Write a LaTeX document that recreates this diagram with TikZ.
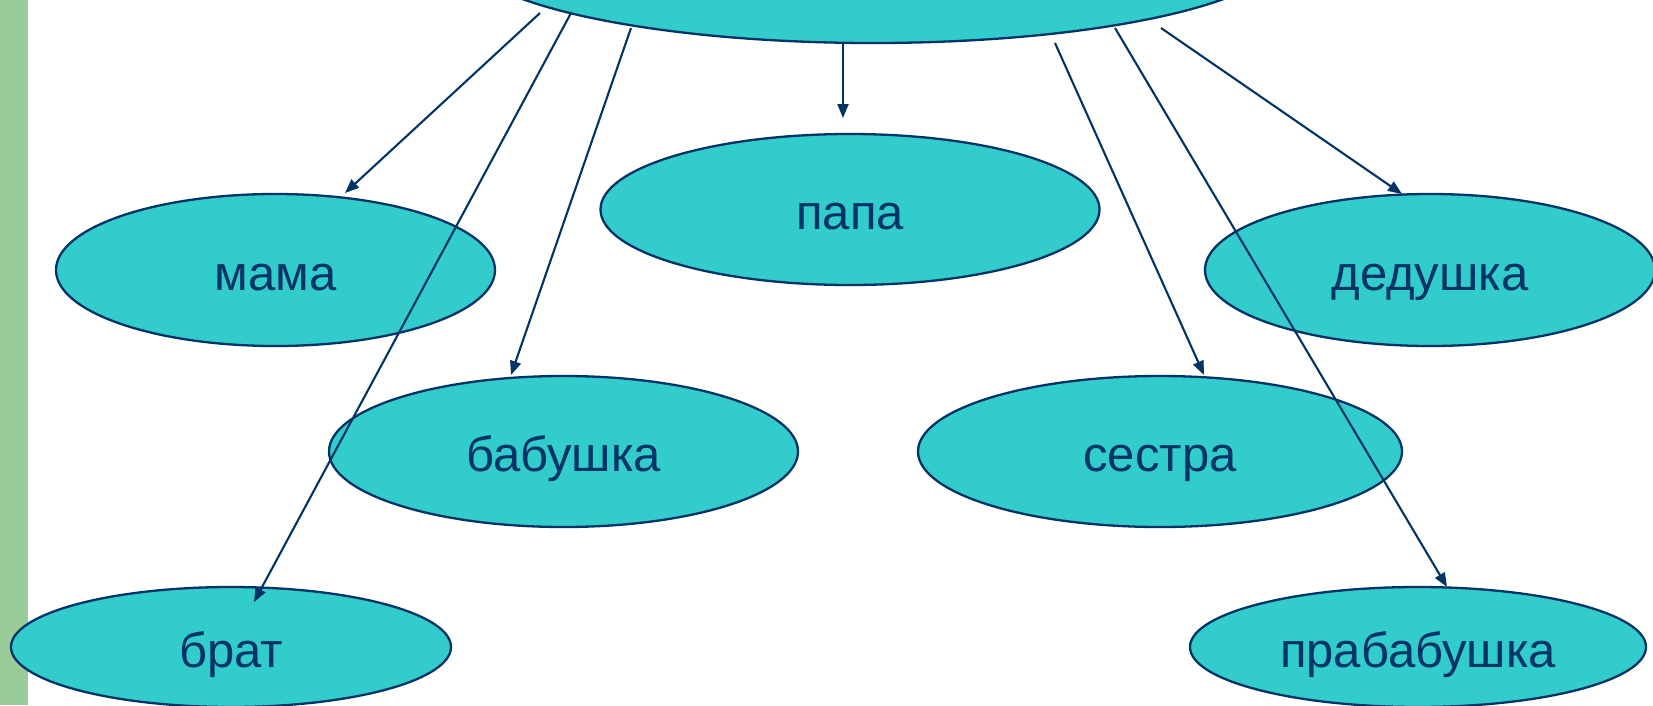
\documentclass[tikz,border=0pt]{standalone}
\usepackage{fontspec}
\setmainfont{Liberation Sans}
\usetikzlibrary{arrows.meta,shapes.geometric}
\definecolor{teal1}{HTML}{33CCCC}
\definecolor{navy1}{HTML}{003366}
\definecolor{green1}{HTML}{99CC99}
\tikzset{
  oval/.style={ellipse, draw=navy1, line width=2.3pt, fill=teal1, inner sep=0pt,
    text=navy1, font=\fontsize{49}{52}\selectfont, text height=40pt, text depth=0pt},
  conn/.style={draw=navy1, line width=2.1pt, -{Triangle[length=14pt,width=11pt]}},
}
\begin{document}
\begin{tikzpicture}[x=1pt,y=-1pt]
\useasboundingbox (0,0) rectangle (1653,705);
\clip (0,0) rectangle (1653,705);
\fill[white] (0,0) rectangle (1653,705);
\fill[green1] (0,0) rectangle (28,705);
% nodes
\node[oval, minimum width=828pt, minimum height=188pt] (top) at (873,-51) {};
\node[oval, minimum width=439pt, minimum height=152pt] (mama) at (275.5,270) {мама};
\node[oval, minimum width=499pt, minimum height=151pt] (papa) at (850,209.5) {папа};
\node[oval, minimum width=450pt, minimum height=152pt] (ded) at (1430,270) {дедушка};
\node[oval, minimum width=469pt, minimum height=151pt] (bab) at (563.5,451.5) {бабушка};
\node[oval, minimum width=484pt, minimum height=151pt] (ses) at (1160,451.5) {сестра};
\node[oval, minimum width=440pt, minimum height=120pt] (brat) at (231,647) {брат};
\node[oval, minimum width=456pt, minimum height=120pt] (prab) at (1418,647) {прабабушка};
% start points
\coordinate (s1) at (540,13);
\coordinate (s2) at (571,13);
\coordinate (s3) at (631,28);
\coordinate (s4) at (843,43);
\coordinate (s5) at (1055,43);
\coordinate (s6) at (1115,28);
\coordinate (s7) at (1161,28);
% tips
\coordinate (t1) at (345,193);
\coordinate (t2) at (254,602);
\coordinate (t3) at (511,375);
\coordinate (t4) at (843,118);
\coordinate (t5) at (1204,375);
\coordinate (t6) at (1447,587);
\coordinate (t7) at (1402,194);
\draw[conn] (s1) -- (t1);
\draw[conn] (s2) -- (t2);
\draw[conn] (s3) -- (t3);
\draw[conn] (s4) -- (t4);
\draw[conn] (s5) -- (t5);
\draw[conn] (s6) -- (t6);
\draw[conn] (s7) -- (t7);
\end{tikzpicture}
\end{document}
